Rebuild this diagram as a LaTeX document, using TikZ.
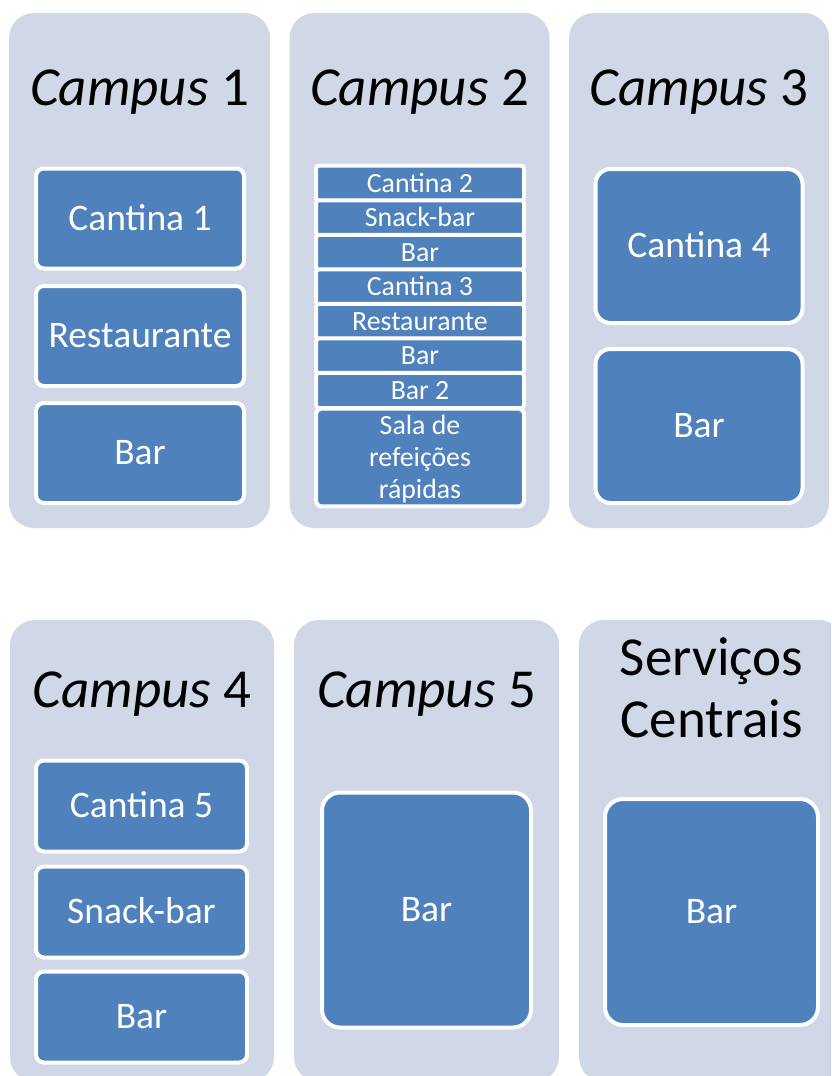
\documentclass[tikz,border=0pt]{standalone}
\usepackage{fontspec}
\setmainfont{Carlito}
\usepackage{xcolor}
\usepackage{tikz}

\definecolor{panelfill}{RGB}{208,216,232}
\definecolor{unitfill}{RGB}{79,129,189}
\newcommand{\lstrut}{\rule[-0.27em]{0pt}{1.22em}}

\begin{document}
\begin{tikzpicture}[x=1pt, y=-1pt,
  panel/.style={fill=panelfill, rounded corners=25pt, inner sep=0pt},
  title/.style={anchor=base, inner sep=0pt, font=\fontsize{55}{62}\selectfont},
  unit/.style={draw=white, line width=4pt, fill=unitfill, text=white,
               rounded corners=#1, inner sep=0pt},
  unit/.default=8pt,
  big/.style={font=\fontsize{37.5}{43}\selectfont, text height=35.6pt, text depth=11.9pt},
  small/.style={font=\fontsize{27.8}{32}\selectfont, text height=26.4pt, text depth=8.7pt}
]
\useasboundingbox (0,0) rectangle (831,1076);
\clip (0,0) rectangle (831,1076);

% ---- panels (top row, bottom row) ----
\node[panel, minimum width=261, minimum height=515] (c1) at (139.5,270.5) {};
\node[panel, minimum width=260, minimum height=515] (c2) at (419.5,270.5) {};
\node[panel, minimum width=260, minimum height=515] (c3) at (699,270.5)   {};
\node[panel, minimum width=264, minimum height=462] (c4) at (142,851)     {};
\node[panel, minimum width=265, minimum height=462] (c5) at (426.5,851)   {};
\node[panel, minimum width=265, minimum height=462] (c6) at (711.5,851)   {};

% ---- titles ----
\node[title] (t1) at (139.5,105) {\textit{Campus} 1};
\node[title] (t2) at (419.5,105) {\textit{Campus} 2};
\node[title] (t3) at (699,105)   {\textit{Campus} 3};
\node[title] (t4) at (142,707)   {\textit{Campus} 4};
\node[title] (t5) at (426.5,707) {\textit{Campus} 5};
\node[title, anchor=center, align=center,
      font={\fontsize{55}{62}\selectfont\lineskiplimit=-100pt}]
      (t6) at (711.5,688) {\lstrut Serviços\\\lstrut Centrais};

% ---- campus 1 ----
\node[unit, big, minimum width=208, minimum height=100] (c1a) at (140,218.5) {Cantina 1};
\node[unit, big, minimum width=208, minimum height=100] (c1b) at (140,336)   {Restaurante};
\node[unit, big, minimum width=208, minimum height=100] (c1c) at (140,453)   {Bar};

% ---- campus 2 ----
\node[unit=3pt, small, minimum width=208, minimum height=28.5] (c2a) at (420,183.2) {Cantina 2};
\node[unit=3pt, small, minimum width=208, minimum height=28.5] (c2b) at (420,217.8) {Snack-bar};
\node[unit=3pt, small, minimum width=208, minimum height=28.5] (c2c) at (420,252.3) {Bar};
\node[unit=3pt, small, minimum width=208, minimum height=28.5] (c2d) at (420,286.9) {Cantina 3};
\node[unit=3pt, small, minimum width=208, minimum height=28.5] (c2e) at (420,321.4) {Restaurante};
\node[unit=3pt, small, minimum width=208, minimum height=28.5] (c2f) at (420,356)   {Bar};
\node[unit=3pt, small, minimum width=208, minimum height=28.5] (c2g) at (420,390.5) {Bar 2};
\node[unit=6pt, small, text height=, text depth=, align=center,
      minimum width=208, minimum height=92.5] (c2h) at (420,457.5)
      {\lstrut Sala de\\refeições\\rápidas\lstrut};

% ---- campus 3 ----
\node[unit=15pt, big, minimum width=207, minimum height=154] (c3a) at (699,246) {Cantina 4};
\node[unit=15pt, big, minimum width=207, minimum height=154] (c3b) at (699,426) {Bar};

% ---- campus 4 ----
\node[unit, big, minimum width=211, minimum height=91] (c4a) at (141.5,806)  {Cantina 5};
\node[unit, big, minimum width=211, minimum height=91] (c4b) at (141.5,912)  {Snack-bar};
\node[unit, big, minimum width=211, minimum height=91] (c4c) at (141.5,1017) {Bar};

% ---- campus 5 and central services ----
\node[unit=18pt, big, minimum width=209, minimum height=235] (c5a) at (426.5,910) {Bar};
\node[unit=18pt, big, minimum width=213, minimum height=226] (c6a) at (711.5,912) {Bar};

\end{tikzpicture}
\end{document}
